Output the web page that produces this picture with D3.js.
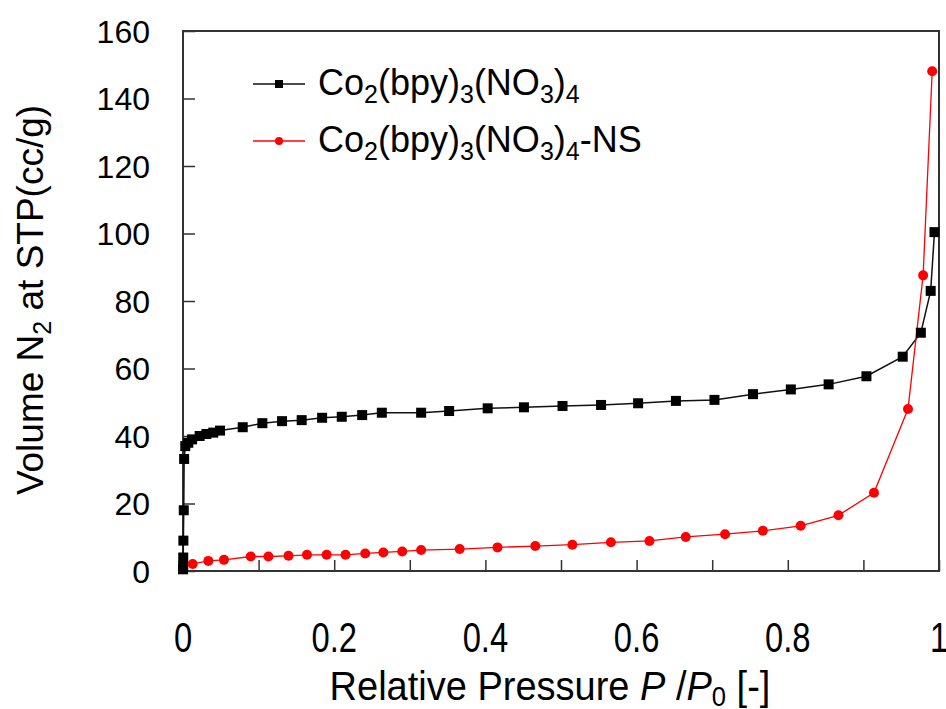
<!DOCTYPE html>
<html>
<head>
<meta charset="utf-8">
<script src="https://cdn.jsdelivr.net/npm/d3@7"></script>
<style>
  html, body { margin: 0; padding: 0; background: #fff; }
  svg { display: block; }
</style>
</head>
<body>
<svg id="chart" width="946" height="709"></svg>
<script>
// N2 adsorption isotherms (relative pressure vs adsorbed volume)
const bulkP = [0.0001, 0.0002, 0.0003, 0.0005, 0.001, 0.0015, 0.003, 0.007, 0.012, 0.022, 0.031, 0.040, 0.049, 0.079,
  0.105, 0.131, 0.157, 0.184, 0.210, 0.237, 0.263, 0.315, 0.352, 0.403, 0.451, 0.502, 0.553, 0.602, 0.652, 0.703,
  0.754, 0.804, 0.854, 0.904, 0.952, 0.976, 0.989, 0.994];
const bulkV = [0.5, 1.5, 4.0, 9.0, 18.0, 33.2, 37.0, 38.0, 39.0, 40.0, 40.6, 41.0, 41.6, 42.6,
  43.8, 44.4, 44.7, 45.4, 45.7, 46.2, 46.9, 46.9, 47.4, 48.2, 48.5, 48.9, 49.2, 49.7, 50.4, 50.7,
  52.4, 53.8, 55.3, 57.7, 63.5, 70.6, 83.0, 100.4];

const nsP = [0.0128, 0.0335, 0.0542, 0.0896, 0.113, 0.1396, 0.164, 0.190, 0.215, 0.241, 0.265, 0.290, 0.315, 0.366,
  0.416, 0.466, 0.515, 0.566, 0.617, 0.665, 0.717, 0.767, 0.817, 0.867, 0.914, 0.959, 0.979, 0.991];
const nsV = [2.1, 3.0, 3.3, 4.3, 4.3, 4.5, 4.8, 4.8, 4.8, 5.2, 5.5, 5.8, 6.2, 6.5,
  7.0, 7.4, 7.8, 8.5, 8.9, 10.1, 10.9, 11.9, 13.4, 16.5, 23.2, 48.0, 87.6, 148.1];

const xTicks = [0, 0.2, 0.4, 0.6, 0.8, 1];
const xMinorTicks = [0, 0.1, 0.2, 0.3, 0.4, 0.5, 0.6, 0.7, 0.8, 0.9, 1];
const yTicks = [0, 20, 40, 60, 80, 100, 120, 140, 160];

const FONT = "'Liberation Sans', Arial, sans-serif";

const svg = d3.select("#chart");
const plot = { left: 183, right: 939, top: 31, bottom: 571 };

const x = d3.scaleLinear().domain([0, 1]).range([plot.left, plot.right]);
const y = d3.scaleLinear().domain([0, 160]).range([plot.bottom, plot.top]);

svg.append("rect").attr("width", 946).attr("height", 709).attr("fill", "#fff");

// inward ticks along the bottom and left edges
const xAxis = d3.axisTop(x).tickValues(xMinorTicks).tickSize(11).tickFormat("");
svg.append("g").attr("transform", `translate(0,${plot.bottom})`).call(xAxis)
  .call(g => g.select(".domain").remove())
  .call(g => g.selectAll("line").attr("stroke", "#333").attr("stroke-width", 1.5));

const yAxis = d3.axisRight(y).tickValues(yTicks).tickSize(12).tickFormat("");
svg.append("g").attr("transform", `translate(${plot.left},0)`).call(yAxis)
  .call(g => g.select(".domain").remove())
  .call(g => g.selectAll("line").attr("stroke", "#333").attr("stroke-width", 1.5));

// tick labels
svg.append("g").selectAll("text").data(yTicks).join("text")
  .attr("x", 150).attr("y", d => y(d)).attr("dy", "0.36em")
  .attr("text-anchor", "end")
  .attr("font-family", FONT).attr("font-size", 32).attr("fill", "#000")
  .text(d => d);

// condensed labels under the x axis
svg.append("g").selectAll("text").data(xTicks).join("text")
  .attr("transform", d => `translate(${x(d)},652) scale(0.78,1)`)
  .attr("text-anchor", "middle")
  .attr("font-family", FONT).attr("font-size", 42).attr("fill", "#000")
  .text(d => d);

// plot frame
svg.append("rect")
  .attr("x", plot.left).attr("y", plot.top)
  .attr("width", plot.right - plot.left).attr("height", plot.bottom - plot.top)
  .attr("fill", "none").attr("stroke", "#333").attr("stroke-width", 2);

// series
const bulk = bulkP.map((p, i) => ({ p, v: bulkV[i] }));
const ns = nsP.map((p, i) => ({ p, v: nsV[i] }));
const line = d3.line().x(d => x(d.p)).y(d => y(d.v));

svg.append("path").datum(bulk).attr("d", line)
  .attr("fill", "none").attr("stroke", "#111").attr("stroke-width", 1.5);
svg.append("path").datum(ns).attr("d", line)
  .attr("fill", "none").attr("stroke", "#ff0000").attr("stroke-width", 1.3);

const sq = 10;
svg.append("g").selectAll("rect").data(bulk).join("rect")
  .attr("x", d => x(d.p) - sq / 2).attr("y", d => y(d.v) - sq / 2)
  .attr("width", sq).attr("height", sq).attr("fill", "#000");

svg.append("g").selectAll("circle").data(ns).join("circle")
  .attr("cx", d => x(d.p)).attr("cy", d => y(d.v)).attr("r", 5)
  .attr("fill", "#ff0000");

// legend: chemical formula with subscripts
function formula(sel, parts) {
  let shifted = false;
  parts.forEach(([t, sub]) => {
    let dy = 0;
    if (sub && !shifted) { dy = 8; shifted = true; }
    else if (!sub && shifted) { dy = -8; shifted = false; }
    sel.append("tspan").text(t)
      .attr("font-size", sub ? 25 : 36)
      .attr("dy", dy);
  });
}
const chem = [["Co", false], ["2", true], ["(bpy)", false], ["3", true], ["(NO", false], ["3", true], [")", false], ["4", true]];

const leg = svg.append("g");
const rows = [
  { y: 84, color: "#111", mark: "square", parts: chem },
  { y: 141, color: "#ff0000", mark: "circle", parts: chem.concat([["-NS", false]]) }
];
rows.forEach(r => {
  leg.append("line").attr("x1", 253).attr("x2", 305).attr("y1", r.y).attr("y2", r.y)
    .attr("stroke", r.color).attr("stroke-width", 1.5);
  if (r.mark === "square") {
    leg.append("rect").attr("x", 279 - 4).attr("y", r.y - 4).attr("width", 8).attr("height", 8).attr("fill", "#000");
  } else {
    leg.append("circle").attr("cx", 279).attr("cy", r.y).attr("r", 4).attr("fill", "#ff0000");
  }
  const t = leg.append("text").attr("x", 318).attr("y", r.y + 11)
    .attr("font-family", FONT).attr("font-size", 36).attr("fill", "#000");
  formula(t, r.parts);
});

// axis titles
const xt = svg.append("text").attr("transform", "translate(550,700) scale(0.95,1)")
  .attr("text-anchor", "middle")
  .attr("font-family", FONT).attr("font-size", 40).attr("fill", "#000");
xt.append("tspan").text("Relative Pressure ");
xt.append("tspan").text("P").attr("font-style", "italic");
xt.append("tspan").text(" /");
xt.append("tspan").text("P").attr("font-style", "italic");
xt.append("tspan").text("0").attr("font-size", 27).attr("dy", 6);
xt.append("tspan").text(" [-]").attr("dy", -6);

const yt = svg.append("text").attr("transform", "translate(43,300) rotate(-90)")
  .attr("text-anchor", "middle").attr("font-family", FONT).attr("font-size", 37).attr("fill", "#000");
yt.append("tspan").text("Volume N");
yt.append("tspan").text("2").attr("font-size", 25).attr("dy", 8);
yt.append("tspan").text(" at STP(cc/g)").attr("dy", -8);
</script>
</body>
</html>
